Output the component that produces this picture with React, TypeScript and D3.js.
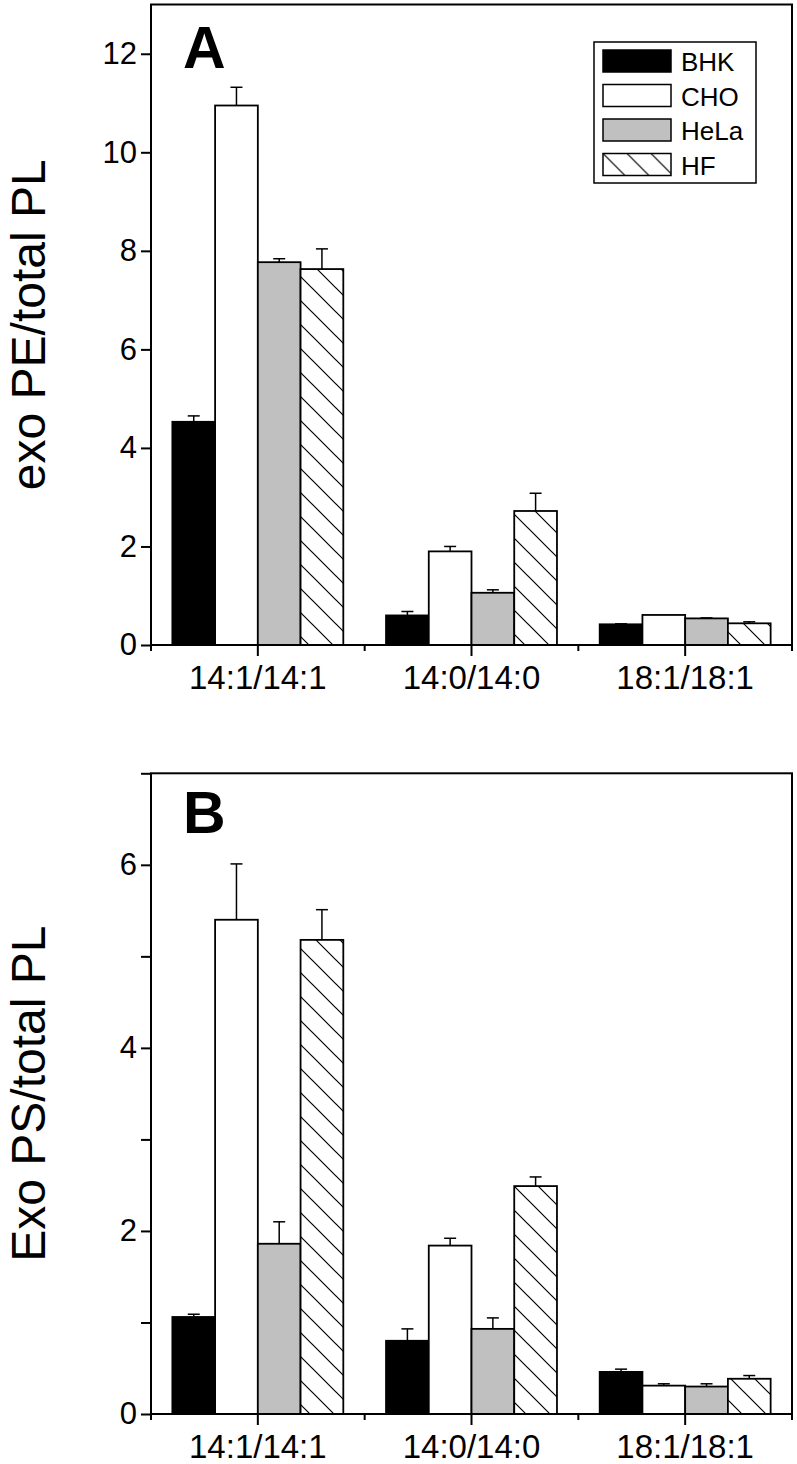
import React, { useEffect, useRef } from "react";
import * as d3 from "d3";

const groups = ["14:1/14:1", "14:0/14:0", "18:1/18:1"];
const cellLines = ["BHK", "CHO", "HeLa", "HF"];

// panel A - exo PE / total PL
const peBHK = [4.53, 0.6, 0.42];
const peBHKErr = [0.12, 0.08, 0.01];
const peCHO = [10.95, 1.9, 0.61];
const peCHOErr = [0.37, 0.1, 0];
const peHeLa = [7.77, 1.06, 0.54];
const peHeLaErr = [0.07, 0.06, 0.01];
const peHF = [7.63, 2.72, 0.44];
const peHFErr = [0.41, 0.36, 0.03];
const peTicks = [0, 2, 4, 6, 8, 10, 12];

// panel B - exo PS / total PL
const psBHK = [1.06, 0.8, 0.46];
const psBHKErr = [0.03, 0.13, 0.03];
const psCHO = [5.4, 1.84, 0.31];
const psCHOErr = [0.61, 0.08, 0.02];
const psHeLa = [1.86, 0.93, 0.3];
const psHeLaErr = [0.24, 0.12, 0.03];
const psHF = [5.18, 2.49, 0.385];
const psHFErr = [0.33, 0.1, 0.035];
const psTicks = [0, 1, 2, 3, 4, 5, 6, 7];
const psTickLabels = [0, 2, 4, 6];

const fills = ["#000000", "#ffffff", "#c0c0c0", "url(#hatch)"];
const FONT = "'Liberation Sans', Arial, Helvetica, sans-serif";

const W = 797;
const H = 1464;
const left = 151;
const right = 792;

function drawPanel(svg, o) {
  const g = svg.append("g");
  const y = d3.scaleLinear().domain([0, o.max]).range([o.bottom, o.top]);
  const x0 = d3.scaleBand().domain(groups).range([left, right]);
  const bw = x0.bandwidth();
  const x1 = d3.scaleBand().domain(cellLines).range([bw * 0.1, bw * 0.9]);

  // bars
  cellLines.forEach((c, i) => {
    const vals = o.values[i];
    const errs = o.errors[i];
    const rows = groups.map((grp, j) => ({ grp, v: vals[j], e: errs[j] }));
    const sg = g.append("g");
    sg.selectAll("rect")
      .data(rows)
      .join("rect")
      .attr("x", (d) => x0(d.grp) + x1(c))
      .attr("y", (d) => y(d.v))
      .attr("width", x1.bandwidth())
      .attr("height", (d) => y(0) - y(d.v))
      .attr("fill", fills[i])
      .attr("stroke", "#000")
      .attr("stroke-width", 1.8);
    const eb = sg.selectAll("g.err").data(rows.filter((d) => d.e > 0)).join("g").attr("class", "err");
    const cx = (d) => x0(d.grp) + x1(c) + x1.bandwidth() / 2;
    eb.append("line")
      .attr("x1", cx).attr("x2", cx)
      .attr("y1", (d) => y(d.v)).attr("y2", (d) => y(d.v + d.e))
      .attr("stroke", "#000").attr("stroke-width", 1.5);
    eb.append("line")
      .attr("x1", (d) => cx(d) - 6).attr("x2", (d) => cx(d) + 6)
      .attr("y1", (d) => y(d.v + d.e)).attr("y2", (d) => y(d.v + d.e))
      .attr("stroke", "#000").attr("stroke-width", 1.5);
  });

  // frame
  g.append("rect")
    .attr("x", left).attr("y", o.top)
    .attr("width", right - left).attr("height", o.bottom - o.top)
    .attr("fill", "none").attr("stroke", "#000").attr("stroke-width", 2);

  // y axis
  const yAxis = d3.axisLeft(y)
    .tickValues(o.ticks)
    .tickSize(10)
    .tickSizeOuter(0)
    .tickPadding(4)
    .tickFormat((d) => (o.labels.includes(d) ? String(d) : ""));
  const ya = g.append("g").attr("transform", `translate(${left},0)`).call(yAxis);
  ya.select(".domain").remove();
  ya.selectAll("line").attr("stroke-width", 2);
  ya.selectAll("text").attr("font-size", 31).attr("font-family", FONT).attr("fill", "#000");

  // x axis: major ticks at group centres, minor ticks at boundaries
  const xAxis = d3.axisBottom(x0).tickSize(11).tickSizeOuter(0).tickPadding(10);
  const xa = g.append("g").attr("transform", `translate(0,${o.bottom})`).call(xAxis);
  xa.select(".domain").remove();
  xa.selectAll("line").attr("stroke-width", 2);
  xa.selectAll("text").attr("font-size", 33).attr("font-family", FONT).attr("fill", "#000");
  const bounds = groups.map((grp) => x0(grp)).concat([right]);
  g.append("g")
    .selectAll("line")
    .data(bounds)
    .join("line")
    .attr("x1", (d) => d).attr("x2", (d) => d)
    .attr("y1", o.bottom).attr("y2", o.bottom + 6)
    .attr("stroke", "#000").attr("stroke-width", 2);

  // panel letter
  g.append("text")
    .attr("x", 183).attr("y", o.top + o.letterDy)
    .attr("font-family", FONT).attr("font-weight", "bold").attr("font-size", 59)
    .text(o.letter);

  // y title
  g.append("text")
    .attr("transform", `translate(45,${(o.top + o.bottom) / 2}) rotate(-90)`)
    .attr("text-anchor", "middle")
    .attr("font-family", FONT).attr("font-size", 48)
    .text(o.title);
}

export default function App() {
  const ref = useRef(null);

  useEffect(() => {
    const svg = d3.select(ref.current);
    svg.selectAll("*").remove();

    const defs = svg.append("defs");
    const pat = defs.append("pattern")
      .attr("id", "hatch")
      .attr("patternUnits", "userSpaceOnUse")
      .attr("width", 24).attr("height", 24);
    pat.append("rect").attr("width", 24).attr("height", 24).attr("fill", "#fff");
    pat.append("path")
      .attr("d", "M0,0L24,24M-6,18L6,30M18,-6L30,6")
      .attr("stroke", "#000").attr("stroke-width", 1.2);

    drawPanel(svg, {
      top: 4.5, bottom: 645, max: 13,
      ticks: peTicks, labels: peTicks,
      values: [peBHK, peCHO, peHeLa, peHF],
      errors: [peBHKErr, peCHOErr, peHeLaErr, peHFErr],
      letter: "A", letterDy: 63.5,
      title: "exo PE/total PL",
    });
    drawPanel(svg, {
      top: 773.3, bottom: 1414, max: 7,
      ticks: psTicks, labels: psTickLabels,
      values: [psBHK, psCHO, psHeLa, psHF],
      errors: [psBHKErr, psCHOErr, psHeLaErr, psHFErr],
      letter: "B", letterDy: 60,
      title: "Exo PS/total PL",
    });

    // legend (panel A)
    const lg = svg.append("g");
    lg.append("rect")
      .attr("x", 594).attr("y", 42).attr("width", 162).attr("height", 141)
      .attr("fill", "#fff").attr("stroke", "#000").attr("stroke-width", 1.5);
    const items = lg.selectAll("g.item").data(cellLines).join("g").attr("class", "item")
      .attr("transform", (d, i) => `translate(603,${50 + i * 34.5})`);
    items.append("rect")
      .attr("width", 68).attr("height", 22)
      .attr("fill", (d, i) => fills[i])
      .attr("stroke", "#000").attr("stroke-width", 1.5);
    items.append("text")
      .attr("x", 78).attr("y", 21)
      .attr("font-family", FONT).attr("font-size", 26)
      .text((d) => d);
  }, []);

  return (
    <svg
      ref={ref}
      width={W}
      height={H}
      style={{ position: "absolute", left: 0, top: 0, background: "#fff" }}
    />
  );
}
